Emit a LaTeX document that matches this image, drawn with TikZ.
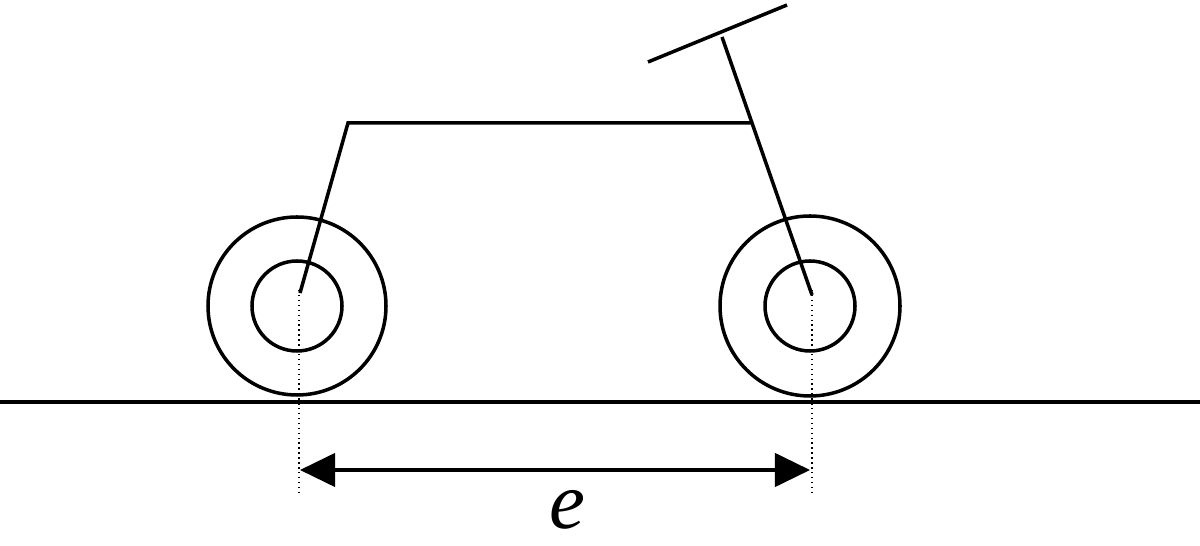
\documentclass[tikz,border=0pt]{standalone}
\usetikzlibrary{arrows.meta}
\usepackage{fontspec}
\setmainfont{Liberation Serif}
\begin{document}
\begin{tikzpicture}[x=0.02cm,y=-0.02cm,line width=2pt,
  thin dot/.style={line width=0.8pt,dotted}]
\useasboundingbox (0,0) rectangle (1200,546);
\coordinate (lw) at (297,306);
\coordinate (rw) at (810,306);
\draw (0,402) -- (1200,402);
\draw (lw) circle[radius=89*0.02cm] (lw) circle[radius=45*0.02cm];
\draw (rw) circle[radius=90*0.02cm] (rw) circle[radius=45*0.02cm];
\coordinate (seat) at (348,123);
\coordinate (head) at (752,123);
\coordinate (stem) at (722,37);
\draw (300,293) -- (seat) -- (head);
\draw (stem) -- (812,295);
\draw (648,62) -- (787,5);
\draw[thin dot] (299,290) -- (299,492);
\draw[thin dot] (812,290) -- (812,492);
\coordinate (a) at (300,470);
\coordinate (b) at (810,470);
\draw[{Triangle[length=20pt,width=19pt]}-{Triangle[length=20pt,width=19pt]}] (a) -- (b);
\node (e) at (567,510) {\fontsize{46}{46}\selectfont\itshape e};
\end{tikzpicture}
\end{document}
